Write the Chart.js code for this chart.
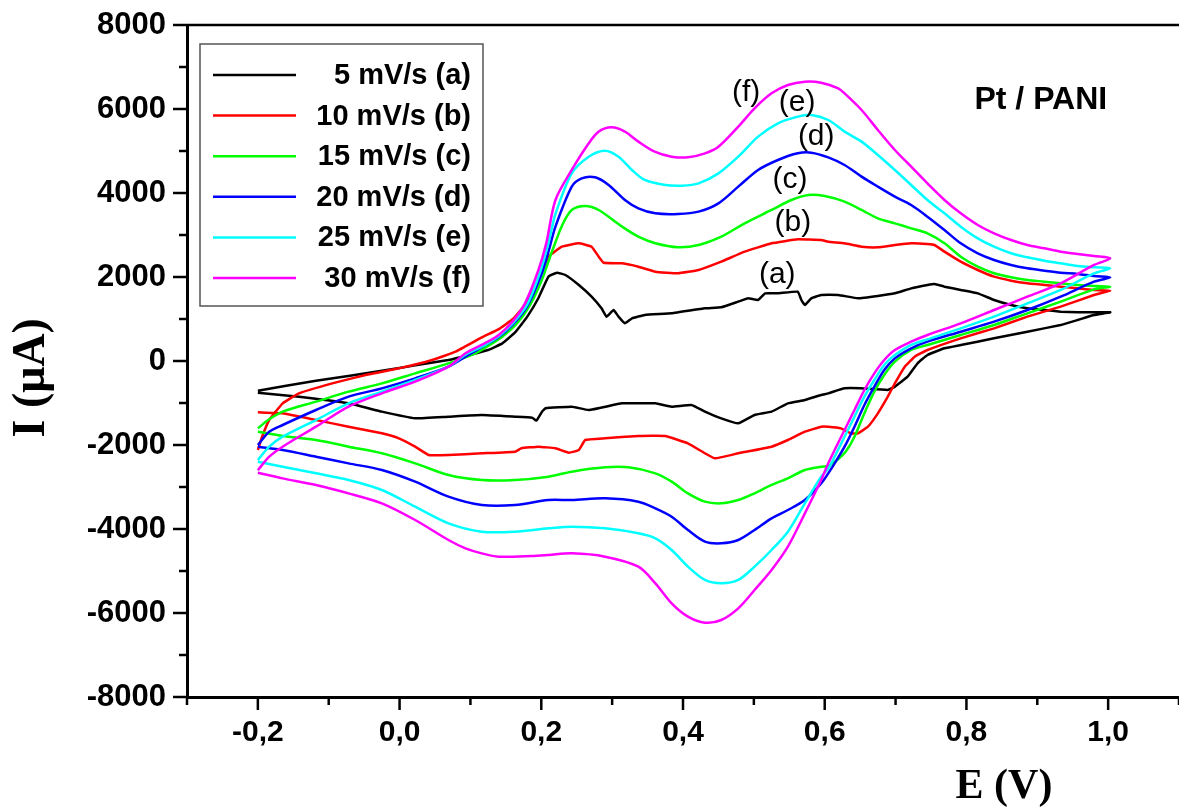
<!DOCTYPE html>
<html>
<head>
<meta charset="utf-8">
<script src="https://cdn.jsdelivr.net/npm/chart.js@4.4.1/dist/chart.umd.min.js"></script>
<style>
  html, body { margin: 0; padding: 0; background: #fff; overflow: hidden; }
  #wrap { width: 1179px; height: 812px; position: relative; }
</style>
</head>
<body>
<div id="wrap"><canvas id="cv"></canvas></div>
<script>
// scan rates, colours and legend text
const seriesLabels = ['5 mV/s (a)', '10 mV/s (b)', '15 mV/s (c)', '20 mV/s (d)', '25 mV/s (e)', '30 mV/s (f)'];
const seriesColors = ['#000000', '#ff0000', '#00ff00', '#0000ff', '#00ffff', '#ff00ff'];

// axis ticks
const xTickValues = [-0.2, 0.0, 0.2, 0.4, 0.6, 0.8, 1.0];
const yTickValues = [-8000, -6000, -4000, -2000, 0, 2000, 4000, 6000, 8000];

// cyclic voltammograms: [E (V), I (uA)], forward scan then reverse scan
const curveA = [
  [-0.200, -706], [-0.160, -590], [-0.118, -468], [-0.070, -350], [-0.025, -230], [0.020, -110], [0.069, 24],
  [0.100, 150], [0.125, 262], [0.145, 420], [0.163, 680], [0.180, 1050], [0.196, 1500], [0.210, 2008],
  [0.222, 2103], [0.234, 2048], [0.253, 1810], [0.271, 1532], [0.285, 1254], [0.292, 1056], [0.302, 1214],
  [0.309, 1056], [0.318, 897], [0.328, 1016], [0.346, 1095], [0.384, 1135], [0.431, 1254], [0.454, 1278],
  [0.478, 1413], [0.492, 1492], [0.506, 1453], [0.516, 1611], [0.534, 1611], [0.562, 1651], [0.567, 1453],
  [0.572, 1334], [0.581, 1492], [0.595, 1572], [0.619, 1572], [0.647, 1492], [0.675, 1548], [0.699, 1611],
  [0.722, 1730], [0.745, 1810], [0.755, 1834], [0.769, 1770], [0.792, 1691], [0.816, 1611], [0.839, 1453],
  [0.863, 1334], [0.886, 1254], [0.910, 1214], [0.933, 1175], [0.957, 1159], [1.003, 1159],
  [0.980, 1095], [0.957, 976], [0.933, 857], [0.886, 698], [0.839, 540], [0.792, 381], [0.769, 302],
  [0.745, 143], [0.731, -56], [0.717, -373], [0.699, -611], [0.689, -690], [0.651, -651], [0.628, -651],
  [0.605, -770], [0.595, -810], [0.572, -929], [0.548, -1008], [0.525, -1206], [0.501, -1286], [0.478, -1484],
  [0.454, -1365], [0.431, -1206], [0.412, -1048], [0.384, -1087], [0.361, -1008], [0.314, -1008], [0.267, -1167],
  [0.243, -1087], [0.206, -1127], [0.201, -1206], [0.193, -1421], [0.187, -1349], [0.163, -1325], [0.116, -1286],
  [0.069, -1325], [0.022, -1365], [-0.025, -1206], [-0.072, -1008], [-0.142, -849], [-0.200, -754]
];
const curveB = [
  [-0.200, -2119], [-0.194, -1802], [-0.184, -1405], [-0.165, -1008], [-0.142, -770], [-0.095, -532],
  [-0.048, -333], [-0.001, -175], [0.046, 24], [0.079, 222], [0.116, 560], [0.140, 760], [0.160, 1000],
  [0.180, 1400], [0.196, 1950], [0.210, 2484], [0.229, 2722], [0.253, 2802], [0.271, 2722], [0.281, 2484],
  [0.288, 2341], [0.314, 2325], [0.337, 2246], [0.361, 2127], [0.393, 2088], [0.422, 2167], [0.454, 2365],
  [0.487, 2603], [0.525, 2802], [0.562, 2897], [0.595, 2881], [0.605, 2841], [0.628, 2802], [0.652, 2722],
  [0.675, 2707], [0.699, 2762], [0.722, 2802], [0.745, 2786], [0.755, 2762], [0.769, 2603], [0.792, 2365],
  [0.816, 2167], [0.839, 2008], [0.863, 1913], [0.886, 1849], [0.910, 1810], [0.933, 1770], [0.957, 1730],
  [0.980, 1691], [1.003, 1675],
  [0.980, 1572], [0.933, 1294], [0.886, 1056], [0.839, 778], [0.792, 540], [0.745, 262], [0.727, 103],
  [0.713, -135], [0.699, -532], [0.689, -849], [0.675, -1246], [0.661, -1564], [0.647, -1722], [0.637, -1722],
  [0.623, -1603], [0.605, -1564], [0.595, -1564], [0.572, -1683], [0.548, -1881], [0.525, -2040], [0.478, -2198],
  [0.445, -2318], [0.431, -2198], [0.407, -1960], [0.375, -1786], [0.337, -1786], [0.290, -1841], [0.262, -1881],
  [0.253, -2119], [0.239, -2183], [0.220, -2079], [0.196, -2040], [0.172, -2079], [0.163, -2159], [0.116, -2198],
  [0.069, -2238], [0.041, -2238], [0.022, -2040], [-0.001, -1841], [-0.025, -1722], [-0.072, -1564],
  [-0.118, -1405], [-0.165, -1246], [-0.200, -1222]
];
const curveC = [
  [-0.200, -1603], [-0.185, -1400], [-0.165, -1206], [-0.118, -968], [-0.072, -730], [-0.025, -532], [0.022, -294],
  [0.069, -56], [0.107, 183], [0.125, 360], [0.145, 580], [0.165, 880], [0.183, 1300], [0.200, 1900], [0.215, 2600],
  [0.230, 3250], [0.243, 3596], [0.262, 3691], [0.281, 3596], [0.314, 3199], [0.337, 2961], [0.361, 2802],
  [0.393, 2707], [0.422, 2762], [0.454, 2961], [0.487, 3278], [0.525, 3596], [0.553, 3834], [0.577, 3953],
  [0.600, 3929], [0.628, 3794], [0.652, 3596], [0.675, 3397], [0.699, 3278], [0.722, 3159], [0.745, 3040],
  [0.769, 2802], [0.792, 2484], [0.816, 2246], [0.839, 2088], [0.863, 1992], [0.886, 1929], [0.910, 1889],
  [0.933, 1849], [0.957, 1810], [0.980, 1786], [1.003, 1770],
  [0.980, 1706], [0.933, 1413], [0.886, 1135], [0.839, 857], [0.792, 619], [0.745, 381], [0.722, 262],
  [0.699, -16], [0.684, -333], [0.670, -730], [0.656, -1246], [0.642, -1802], [0.630, -2150], [0.618, -2350],
  [0.605, -2500], [0.595, -2516], [0.572, -2595], [0.548, -2794], [0.525, -2952], [0.501, -3151], [0.478, -3310],
  [0.454, -3389], [0.431, -3349], [0.407, -3151], [0.384, -2873], [0.361, -2675], [0.323, -2532], [0.290, -2532],
  [0.243, -2635], [0.210, -2754], [0.163, -2833], [0.116, -2833], [0.069, -2714], [0.022, -2437], [-0.025, -2198],
  [-0.072, -2040], [-0.118, -1881], [-0.165, -1786], [-0.200, -1683]
];
const curveD = [
  [-0.200, -2000], [-0.184, -1683], [-0.165, -1524], [-0.118, -1167], [-0.072, -849], [-0.025, -651], [0.022, -413],
  [0.069, -135], [0.093, 103], [0.120, 370], [0.140, 570], [0.160, 870], [0.180, 1300], [0.200, 2050], [0.210, 2600],
  [0.220, 3199], [0.243, 4151], [0.257, 4349], [0.276, 4373], [0.295, 4191], [0.318, 3834], [0.337, 3635],
  [0.361, 3516], [0.393, 3500], [0.422, 3556], [0.450, 3754], [0.478, 4151], [0.506, 4548], [0.534, 4786],
  [0.562, 4945], [0.581, 4961], [0.605, 4849], [0.628, 4667], [0.652, 4389], [0.675, 4151], [0.699, 3913],
  [0.722, 3715], [0.745, 3437], [0.769, 3119], [0.792, 2802], [0.816, 2564], [0.839, 2405], [0.863, 2286],
  [0.886, 2207], [0.910, 2151], [0.933, 2103], [0.957, 2072], [0.980, 2024], [1.003, 1992],
  [0.980, 1889], [0.933, 1532], [0.886, 1214], [0.839, 937], [0.792, 698], [0.745, 460], [0.722, 302],
  [0.699, 63], [0.684, -214], [0.670, -611], [0.656, -1048], [0.642, -1564], [0.628, -2040], [0.614, -2437],
  [0.605, -2675], [0.595, -2913], [0.572, -3310], [0.548, -3548], [0.525, -3746], [0.501, -4024], [0.478, -4262],
  [0.454, -4341], [0.431, -4302], [0.407, -4024], [0.384, -3707], [0.361, -3508], [0.337, -3349], [0.290, -3270],
  [0.243, -3310], [0.210, -3310], [0.163, -3429], [0.116, -3429], [0.069, -3230], [0.022, -2873], [-0.025, -2595],
  [-0.072, -2437], [-0.118, -2278], [-0.165, -2119], [-0.200, -2040]
];
const curveE = [
  [-0.200, -2357], [-0.184, -2040], [-0.165, -1802], [-0.118, -1405], [-0.072, -1008], [-0.025, -730], [0.022, -452],
  [0.069, -135], [0.093, 150], [0.120, 380], [0.140, 590], [0.160, 900], [0.180, 1340], [0.198, 2100], [0.210, 2800],
  [0.220, 3500], [0.243, 4468], [0.267, 4865], [0.290, 5008], [0.309, 4865], [0.328, 4548], [0.346, 4310],
  [0.375, 4191], [0.398, 4175], [0.422, 4230], [0.450, 4468], [0.478, 4865], [0.506, 5342], [0.534, 5659],
  [0.562, 5818], [0.581, 5858], [0.605, 5738], [0.628, 5461], [0.652, 5223], [0.675, 4905], [0.699, 4548],
  [0.722, 4191], [0.745, 3834], [0.769, 3516], [0.792, 3199], [0.816, 2921], [0.839, 2722], [0.863, 2564],
  [0.886, 2468], [0.910, 2389], [0.933, 2325], [0.957, 2262], [0.980, 2230], [1.003, 2207],
  [0.980, 2087], [0.933, 1691], [0.886, 1373], [0.839, 1056], [0.792, 778], [0.745, 516], [0.722, 381],
  [0.699, 143], [0.684, -95], [0.670, -452], [0.656, -849], [0.642, -1326], [0.628, -1802], [0.614, -2278],
  [0.605, -2560], [0.595, -2754], [0.572, -3389], [0.548, -4064], [0.525, -4500], [0.501, -4897], [0.478, -5214],
  [0.454, -5294], [0.431, -5214], [0.407, -4897], [0.384, -4500], [0.361, -4222], [0.337, -4103], [0.290, -3984],
  [0.243, -3945], [0.210, -3984], [0.163, -4064], [0.116, -4064], [0.069, -3865], [0.022, -3469], [-0.025, -3072],
  [-0.072, -2833], [-0.118, -2675], [-0.165, -2516], [-0.200, -2397]
];
const curveF = [
  [-0.200, -2600], [-0.184, -2278], [-0.165, -2040], [-0.118, -1564], [-0.072, -1087], [-0.025, -770], [0.022, -492],
  [0.069, -135], [0.093, 183], [0.120, 420], [0.140, 620], [0.160, 950], [0.177, 1373], [0.196, 2167], [0.207, 2800],
  [0.220, 3834], [0.243, 4548], [0.267, 5183], [0.281, 5461], [0.299, 5564], [0.318, 5461], [0.337, 5223],
  [0.360, 4984], [0.384, 4865], [0.407, 4849], [0.431, 4945], [0.450, 5103], [0.478, 5580], [0.501, 6016],
  [0.525, 6373], [0.548, 6572], [0.572, 6651], [0.595, 6627], [0.619, 6492], [0.628, 6373], [0.652, 5977],
  [0.675, 5500], [0.699, 5024], [0.722, 4627], [0.745, 4230], [0.769, 3834], [0.792, 3516], [0.816, 3238],
  [0.839, 3040], [0.863, 2881], [0.886, 2762], [0.910, 2683], [0.933, 2603], [0.957, 2548], [0.980, 2500], [1.003, 2445],
  [0.980, 2286], [0.933, 1849], [0.886, 1532], [0.839, 1214], [0.792, 897], [0.745, 619], [0.722, 460],
  [0.699, 262], [0.684, 24], [0.670, -294], [0.656, -690], [0.642, -1167], [0.628, -1643], [0.614, -2119],
  [0.605, -2437], [0.595, -2833], [0.572, -3627], [0.548, -4421], [0.525, -4976], [0.501, -5453], [0.478, -5889],
  [0.454, -6167], [0.431, -6230], [0.407, -6088], [0.384, -5770], [0.361, -5294], [0.337, -4897], [0.290, -4659],
  [0.243, -4580], [0.210, -4619], [0.187, -4643], [0.140, -4659], [0.116, -4580], [0.093, -4460], [0.069, -4262],
  [0.022, -3786], [-0.025, -3389], [-0.072, -3151], [-0.118, -2952], [-0.165, -2794], [-0.200, -2659]
];
const curves = [curveA, curveB, curveC, curveD, curveE, curveF];

// curve tags written next to the peaks, [text, E, I]
const curveTags = [
  ['(a)', 0.533, 2050], ['(b)', 0.555, 3290], ['(c)', 0.551, 4310],
  ['(d)', 0.588, 5330], ['(e)', 0.561, 6140], ['(f)', 0.489, 6380]
];
const sampleTag = ['Pt / PANI', 0.905, 6210];

const SANS = '"Liberation Sans", Arial, sans-serif';
const SERIF = '"Liberation Serif", "Times New Roman", serif';

const datasets = curves.map((c, i) => ({
  label: seriesLabels[i],
  data: c.map(p => ({x: p[0], y: p[1]})),
  borderColor: seriesColors[i],
  backgroundColor: seriesColors[i],
  borderWidth: 2.5,
  showLine: true,
  pointRadius: 0,
  tension: i < 2 ? 0.1 : 0.3,
  order: 6 - i
}));

// frame, tick marks, axis titles, legend box and tags
const decorations = {
  id: 'decorations',
  afterDraw(chart) {
    const {ctx, chartArea: a, scales: {x, y}} = chart;
    ctx.save();
    ctx.strokeStyle = '#000';
    // top frame line
    ctx.lineWidth = 2.5;
    ctx.beginPath();
    ctx.moveTo(a.left, a.top);
    ctx.lineTo(a.right, a.top);
    ctx.stroke();
    // y ticks, every 1000, long on labelled values
    ctx.lineWidth = 2.5;
    for (let v = -8000; v <= 8000; v += 1000) {
      const py = y.getPixelForValue(v);
      const len = v % 2000 === 0 ? 14 : 8;
      ctx.beginPath();
      ctx.moveTo(a.left - len, py);
      ctx.lineTo(a.left, py);
      ctx.stroke();
    }
    // x ticks, every 0.1
    for (let k = -3; k <= 11; k++) {
      const px = x.getPixelForValue(k / 10);
      const len = k % 2 === 0 ? 13 : 8;
      ctx.beginPath();
      ctx.moveTo(px, a.bottom);
      ctx.lineTo(px, a.bottom + len);
      ctx.stroke();
    }
    // axis titles
    ctx.fillStyle = '#000';
    ctx.textAlign = 'center';
    ctx.textBaseline = 'middle';
    ctx.font = 'bold 42px ' + SERIF;
    ctx.fillText('E (V)', x.getPixelForValue(0.853), 787);
    ctx.save();
    ctx.translate(32, y.getPixelForValue(-400));
    ctx.rotate(-Math.PI / 2);
    ctx.font = 'bold 46px ' + SERIF;
    ctx.fillText('I (\u03bcA)', 0, 0);
    ctx.restore();
    // legend box
    const bx = a.left + 13, by = a.top + 19, bw = 283, bh = 262;
    ctx.fillStyle = '#fff';
    ctx.fillRect(bx, by, bw, bh);
    ctx.strokeStyle = '#555';
    ctx.lineWidth = 1.5;
    ctx.strokeRect(bx, by, bw, bh);
    ctx.font = 'bold 29px ' + SANS;
    ctx.textAlign = 'right';
    seriesLabels.forEach((t, i) => {
      const ry = by + 31 + i * 40.6;
      ctx.strokeStyle = seriesColors[i];
      ctx.lineWidth = 2.5;
      ctx.beginPath();
      ctx.moveTo(bx + 13, ry);
      ctx.lineTo(bx + 96, ry);
      ctx.stroke();
      ctx.fillStyle = '#000';
      ctx.fillText(t, bx + bw - 12, ry + 1);
    });
    // curve tags
    ctx.textAlign = 'center';
    ctx.font = '30px ' + SANS;
    curveTags.forEach(([t, e, i]) => {
      ctx.fillText(t, x.getPixelForValue(e), y.getPixelForValue(i));
    });
    ctx.font = 'bold 32px ' + SANS;
    ctx.fillText(sampleTag[0], x.getPixelForValue(sampleTag[1]), y.getPixelForValue(sampleTag[2]));
    ctx.restore();
  }
};

new Chart(document.getElementById('cv'), {
  type: 'scatter',
  data: {datasets: datasets},
  options: {
    responsive: true,
    maintainAspectRatio: false,
    animation: false,
    layout: {padding: {top: 25, right: 0, left: 0, bottom: 0}},
    plugins: {
      legend: {display: false},
      tooltip: {enabled: false},
      title: {display: false}
    },
    scales: {
      x: {
        type: 'linear',
        min: -0.3,
        max: 1.1,
        afterFit: s => { s.height = 115; s.paddingLeft = 0; s.paddingRight = 0; },
        afterBuildTicks: s => { s.ticks = xTickValues.map(v => ({value: v})); },
        grid: {display: false, drawTicks: false},
        border: {display: true, color: '#000', width: 3},
        ticks: {
          color: '#000',
          padding: 18,
          maxRotation: 0,
          autoSkip: false,
          font: {family: SANS, size: 30, weight: 'bold'},
          callback: v => v.toFixed(1).replace('.', ',')
        }
      },
      y: {
        type: 'linear',
        min: -8000,
        max: 8000,
        afterFit: s => { s.width = 187; s.paddingTop = 0; s.paddingBottom = 0; },
        afterBuildTicks: s => { s.ticks = yTickValues.map(v => ({value: v})); },
        grid: {display: false, drawTicks: false},
        border: {display: true, color: '#000', width: 3},
        ticks: {
          color: '#000',
          padding: 21,
          autoSkip: false,
          font: {family: SANS, size: 31, weight: 'bold'},
          callback: v => String(v)
        }
      }
    }
  },
  plugins: [decorations]
});
</script>
</body>
</html>
